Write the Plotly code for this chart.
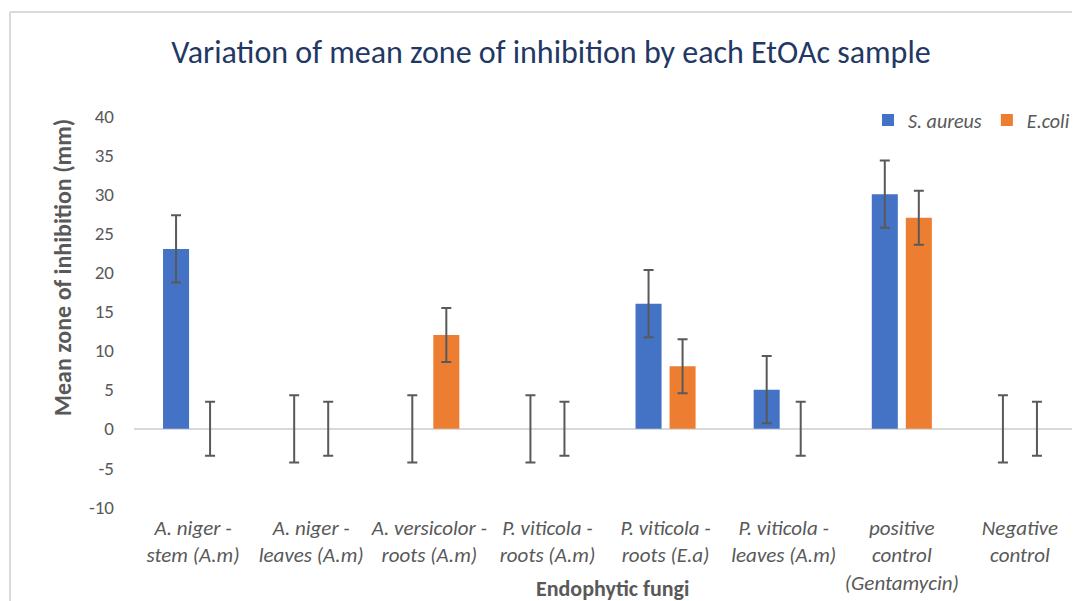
import plotly.graph_objects as go

categories = ["A. niger -<br>stem (A.m)", "A. niger -<br>leaves (A.m)", "A. versicolor -<br>roots (A.m)",
              "P. viticola -<br>roots (A.m)", "P. viticola -<br>roots (E.a)", "P. viticola -<br>leaves (A.m)",
              "positive<br>control<br>(Gentamycin)", "Negative<br>control"]
s_aureus = [23, 0, 0, 0, 16, 5, 30, 0]
e_coli = [0, 0, 12, 0, 8, 0, 27, 0]
s_aureus_err = [4.3] * 8
e_coli_err = [3.45] * 8
y_ticks = [-10, -5, 0, 5, 10, 15, 20, 25, 30, 35, 40]
y_ticktext = [str(v) for v in y_ticks]

FONT = "Calibri, Carlito, Lato, sans-serif"
GRAY = "#595959"
x_idx = list(range(len(categories)))

# page body has an 8px margin: figure is placed at (8, 8) inside the 1080x601 window
W, H = 1072, 593
L, R, T, B = 126, 1, 108, 94
PW, PH = W - L - R, H - T - B


def px(xs):
    return (xs - 8 - L) / PW


def py(ys):
    return 1 - (ys - 8 - T) / PH


fig = go.Figure()
fig.add_trace(go.Bar(x=x_idx, y=s_aureus, name="<i>S. aureus</i>", marker=dict(color="#4472c4", line=dict(width=0)),
                     error_y=dict(type="data", array=s_aureus_err, color=GRAY, thickness=2, width=5)))
fig.add_trace(go.Bar(x=x_idx, y=e_coli, name="<i>E.coli</i>", marker=dict(color="#ed7d31", line=dict(width=0)),
                     error_y=dict(type="data", array=e_coli_err, color=GRAY, thickness=2, width=5)))

fig.update_layout(
    width=W, height=H,
    margin=dict(l=L, r=R, t=T, b=B),
    paper_bgcolor="white", plot_bgcolor="white",
    barmode="group", bargap=0.424, bargroupgap=0.235,
    font=dict(family=FONT, color=GRAY),
    title=dict(text="Variation of mean zone of inhibition by each EtOAc sample", x=(551 - 8) / W, xanchor="center",
               y=1 - 44 / H, yanchor="middle", font=dict(family=FONT, size=32, color="#1f3864")),
    legend=dict(orientation="h", x=1.0 - 4 / PW, xanchor="right", y=py(120), yanchor="middle",
                font=dict(size=20, color=GRAY), bgcolor="rgba(0,0,0,0)", itemwidth=30, traceorder="normal"),
    xaxis=dict(tickmode="array", tickvals=x_idx, ticktext=["<i>" + c + "</i>" for c in categories],
               range=[-0.5, 7.5], showline=False, showgrid=False, ticks="", zeroline=False,
               tickfont=dict(size=21, color=GRAY), ticklabelstandoff=6),
    yaxis=dict(range=[-10, 40], tickmode="array", tickvals=y_ticks, ticktext=y_ticktext,
               showgrid=False, showline=False, ticks="",
               zeroline=True, zerolinecolor="#d9d9d9", zerolinewidth=2,
               tickfont=dict(size=19, color=GRAY), ticklabelstandoff=19),
    annotations=[
        dict(text="<b>Endophytic fungi</b>", xref="paper", yref="paper", x=px(612), y=py(588),
             xanchor="center", yanchor="middle", showarrow=False, font=dict(size=22, color=GRAY)),
        dict(text="<b>Mean zone of inhibition (mm)</b>", xref="paper", yref="paper", x=px(62), y=py(268),
             xanchor="center", yanchor="middle", textangle=-90, showarrow=False, font=dict(size=24, color=GRAY)),
    ],
    shapes=[
        dict(type="line", xref="paper", yref="paper", x0=px(10), x1=1.01, y0=py(12), y1=py(12),
             line=dict(color="#d9d9d9", width=2)),
        dict(type="line", xref="paper", yref="paper", x0=px(10), x1=px(10), y0=py(12), y1=py(640),
             line=dict(color="#d9d9d9", width=2)),
    ],
)
fig.write_html("out.html")
